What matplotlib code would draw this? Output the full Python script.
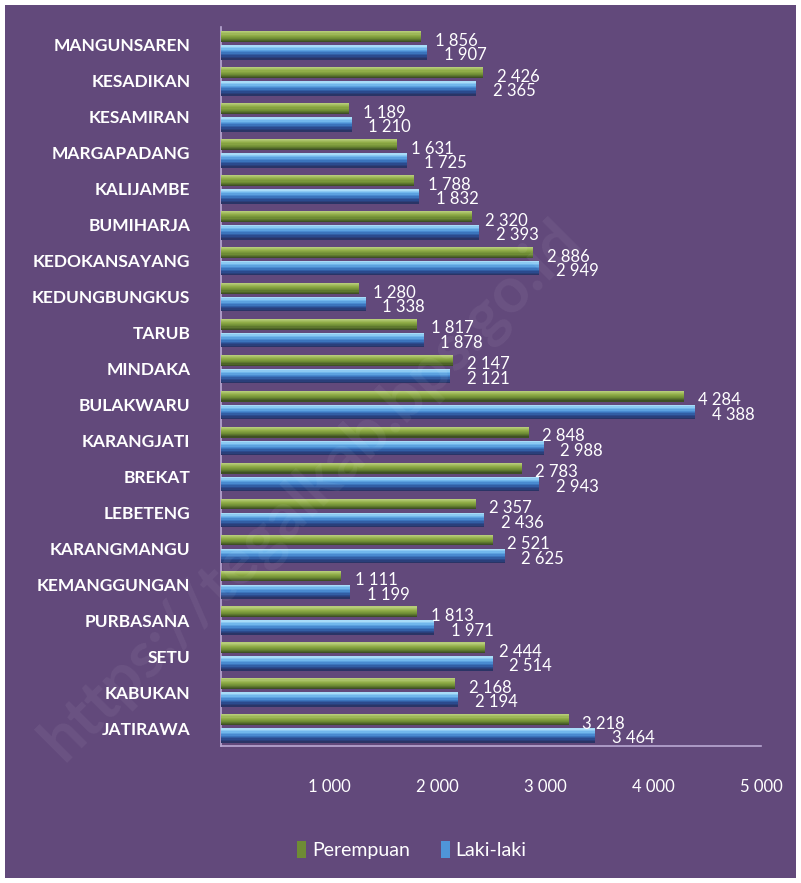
import numpy as np
import matplotlib
matplotlib.use("Agg")
import matplotlib.pyplot as plt
from matplotlib.patches import Rectangle, Patch
from matplotlib.ticker import FuncFormatter
from matplotlib.colors import to_rgb

categories = ["MANGUNSAREN", "KESADIKAN", "KESAMIRAN", "MARGAPADANG", "KALIJAMBE",
              "BUMIHARJA", "KEDOKANSAYANG", "KEDUNGBUNGKUS", "TARUB", "MINDAKA",
              "BULAKWARU", "KARANGJATI", "BREKAT", "LEBETENG", "KARANGMANGU",
              "KEMANGGUNGAN", "PURBASANA", "SETU", "KABUKAN", "JATIRAWA"]
perempuan = [1856, 2426, 1189, 1631, 1788, 2320, 2886, 1280, 1817, 2147,
             4284, 2848, 2783, 2357, 2521, 1111, 1813, 2444, 2168, 3218]
laki_laki = [1907, 2365, 1210, 1725, 1832, 2393, 2949, 1338, 1878, 2121,
             4388, 2988, 2943, 2436, 2625, 1199, 1971, 2514, 2194, 3464]
xticks = [1000, 2000, 3000, 4000, 5000]

FONT = ["Lato", "DejaVu Sans"]
plt.rcParams['font.family'] = FONT
BG = "#62497b"

fig = plt.figure(figsize=(8.01, 8.83), dpi=100, facecolor="white")
bgrect = Rectangle((5/801, 5/883), 791/801, 873/883, transform=fig.transFigure,
                   facecolor=BG, edgecolor="none", zorder=-10)
fig.patches.append(bgrect)

ax = fig.add_axes([221/801, 1-746/883, 540/801, 719/883])
ax.set_facecolor("none")

def fmt(v):
    return f"{v:,.0f}".replace(",", " ")

def grad(stops, n):
    stops = [np.array(to_rgb(c)) for c in stops]
    pos = np.linspace(0, 1, len(stops))
    out = []
    for t in np.linspace(0, 1, n):
        out.append(tuple(np.array([np.interp(t, pos, [s[k] for s in stops]) for k in range(3)])))
    return out

y = np.arange(len(categories))
N = 10
series = [
    (perempuan, -0.23, 0.30, ["#b6cc78", "#90ad48", "#6e8c34", "#3e5024"]),
    (laki_laki, 0.21, 0.40, ["#a8dcf8", "#6ab2ea", "#3f7fc8", "#2b4d92", "#2a3466"]),
]
for vals, off, h, stops in series:
    cols = grad(stops, N)
    for k in range(N):
        yc = y + off - h/2 + (k + 0.5) * h / N
        ax.barh(yc, vals, height=h/N + 0.002, color=cols[k], edgecolor="none", zorder=3)

for i in range(len(categories)):
    ax.annotate(fmt(perempuan[i]), (perempuan[i], y[i] - 0.23), xytext=(10, -3),
                textcoords="offset points", ha="left", va="center", color="white",
                fontsize=12, zorder=5)
    ax.annotate(fmt(laki_laki[i]), (laki_laki[i], y[i] + 0.21), xytext=(12, -2),
                textcoords="offset points", ha="left", va="center", color="white",
                fontsize=12, zorder=5)

ax.set_xlim(0, 5000)
ax.set_ylim(len(categories) - 0.5, -0.5)
ax.set_yticks(y)
ax.set_yticklabels(categories, color="white", fontweight="bold", fontsize=12.5)
ax.set_xticks(xticks)
ax.xaxis.set_major_formatter(FuncFormatter(lambda v, p: fmt(v)))
ax.tick_params(axis="x", length=0, pad=24, labelcolor="white", labelsize=12)
ax.tick_params(axis="y", length=0, pad=22)
for s in ["top", "right"]:
    ax.spines[s].set_visible(False)
for s in ["left", "bottom"]:
    ax.spines[s].set_color("#b9a9d3")
    ax.spines[s].set_linewidth(1.2)

handles = [Patch(facecolor="#6e8c34", edgecolor="none", label="Perempuan"),
           Patch(facecolor="#4f95d8", edgecolor="none", label="Laki-laki")]
leg = fig.legend(handles=handles, loc="center", bbox_to_anchor=(412/801, 1-850/883), ncol=2,
                 frameon=False, handlelength=0.45, handleheight=1.0, handletextpad=0.3,
                 columnspacing=1.6, fontsize=14)
for t in leg.get_texts():
    t.set_color("white")

fig.text(310/801, 1-490/883, "https://tegalkab.bps.go.id", rotation=45, ha="center", va="center",
         fontsize=46, fontweight="bold", color="white", alpha=0.06, zorder=10)

fig.savefig("out.png", dpi=100, facecolor=fig.get_facecolor())
